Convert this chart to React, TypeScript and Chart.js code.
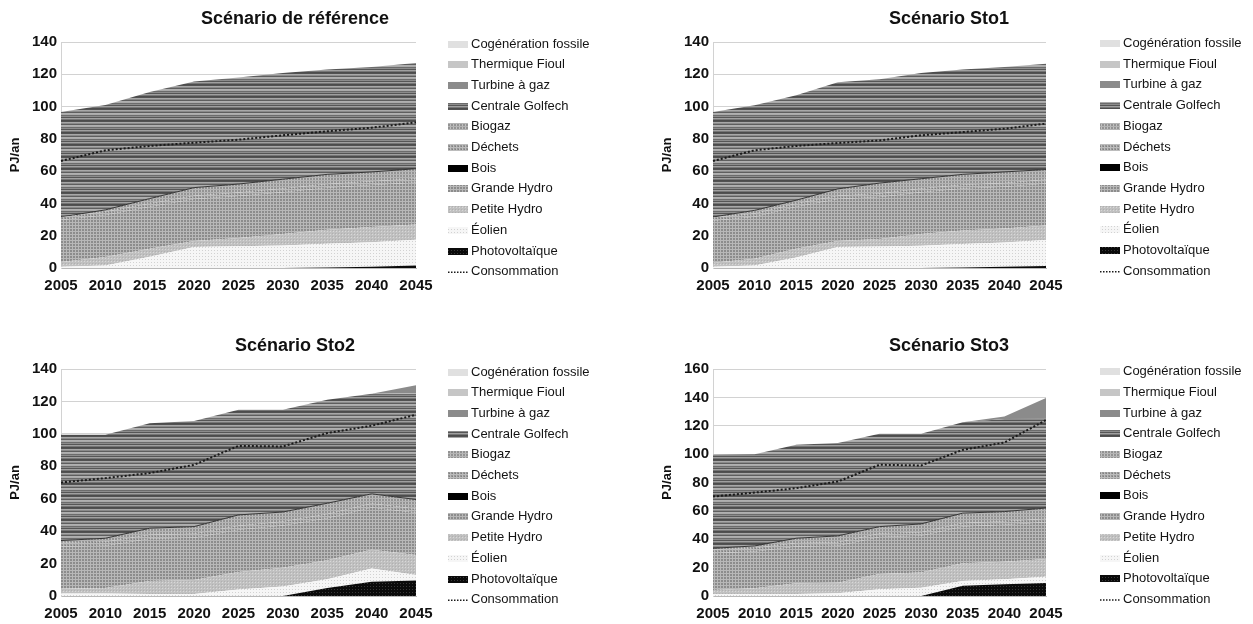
import React, { useEffect, useRef } from 'react';
import { Chart, registerables } from 'chart.js';

Chart.register(...registerables);

// ---------- DATA ----------
const years = ['2005', '2010', '2015', '2020', '2025', '2030', '2035', '2040', '2045'];

// Scénario de référence
const refPhotovoltaique = [0, 0, 0, 0, 0, 0, 0.3, 0.8, 1.5];
const refEolien = [0.8, 1.5, 7, 13, 13.4, 14, 14.7, 15.2, 16];
const refPetiteHydro = [2.9, 5.3, 5, 3.7, 5.2, 7, 8.7, 9.4, 9.5];
const refGrandeHydro = [26, 26, 26, 26, 26, 26, 26, 26, 26];
const refBois = [0, 0, 0, 0, 0, 0, 0, 0, 0];
const refDechets = [1.9, 2, 2, 2.1, 2.2, 2.3, 2.3, 2.3, 2.4];
const refBiogaz = [0, 1.2, 3, 5, 5.2, 5.7, 6, 5.8, 6.1];
const refGolfech = [65, 65, 66, 65.8, 66, 65.8, 65, 65, 65.5];
const refTurbine = [0, 0, 0, 0, 0, 0, 0, 0, 0];
const refFioul = [0, 0, 0, 0, 0, 0, 0, 0, 0];
const refCogeneration = [0, 0, 0, 0, 0, 0, 0, 0, 0];
const refConsommation = [66.3, 72.9, 75.6, 77.6, 79.5, 82.2, 84.7, 86.9, 90.2];

// Scénario Sto1
const sto1Photovoltaique = [0, 0, 0, 0, 0, 0, 0.3, 0.8, 1.3];
const sto1Eolien = [0.8, 1.6, 6.5, 13, 13.3, 13.8, 14.5, 15, 16];
const sto1PetiteHydro = [2.5, 4.2, 5.5, 3.7, 4.7, 7.2, 8.5, 8.6, 9.1];
const sto1GrandeHydro = [26, 26, 26, 26, 26, 26, 26, 26, 26];
const sto1Bois = [0, 0, 0, 0, 0, 0, 0, 0, 0];
const sto1Dechets = [2, 2, 2, 2.1, 2.2, 2.3, 2.3, 2.3, 2.4];
const sto1Biogaz = [0.3, 1.9, 2, 4.2, 6.4, 6, 6.4, 6.8, 6.2];
const sto1Golfech = [65, 65.1, 65, 66, 64.4, 65.5, 64.9, 65, 65.6];
const sto1Turbine = [0, 0, 0, 0, 0, 0, 0, 0, 0];
const sto1Fioul = [0, 0, 0, 0, 0, 0, 0, 0, 0];
const sto1Cogeneration = [0, 0, 0, 0, 0, 0, 0, 0, 0];
const sto1Consommation = [66.3, 72.9, 75.6, 77.4, 79, 82.2, 84.2, 86.3, 89.4];

// Scénario Sto2
const sto2Photovoltaique = [0, 0, 0, 0, 0, 0, 5, 8.8, 9.5];
const sto2Eolien = [1.6, 1.6, 1.2, 1.2, 4, 5.8, 5.3, 8.2, 3.5];
const sto2PetiteHydro = [2.9, 3.4, 8.1, 8.7, 10.8, 11.7, 11.7, 11.6, 12.3];
const sto2GrandeHydro = [26, 26, 26, 26, 26, 26, 26, 26, 26];
const sto2Bois = [0, 0, 0, 0, 0, 0, 0, 0, 0];
const sto2Dechets = [2.5, 2.5, 2.5, 2.5, 2.5, 2.5, 2.5, 2.5, 2.5];
const sto2Biogaz = [1.2, 2.1, 4, 4.4, 6.7, 5.8, 6.7, 5.9, 5.7];
const sto2Golfech = [65.2, 63.8, 64.8, 65.2, 64.9, 63.1, 63.8, 61.8, 65.5];
const sto2Turbine = [0, 0, 0, 0, 0, 0, 0, 0, 5];
const sto2Fioul = [0, 0, 0, 0, 0, 0, 0, 0, 0];
const sto2Cogeneration = [0, 0, 0, 0, 0, 0, 0, 0, 0];
const sto2Consommation = [70, 72.7, 75.8, 80.9, 92.6, 92.2, 100.5, 105, 111.8];

// Scénario Sto3
const sto3Photovoltaique = [0, 0, 0, 0, 0, 0, 7.2, 8.2, 9.2];
const sto3Eolien = [1.4, 1.4, 1.4, 1.9, 4.7, 5.9, 3.4, 3.6, 4.3];
const sto3PetiteHydro = [2.8, 4, 7.5, 7.5, 10.8, 10.6, 12.4, 12.4, 12.5];
const sto3GrandeHydro = [26, 26, 26, 26, 26, 26, 26, 26, 26];
const sto3Bois = [0, 0, 0, 0, 0, 0, 0, 0, 0];
const sto3Dechets = [2.5, 2.5, 2.5, 2.5, 2.5, 2.5, 2.5, 2.5, 2.5];
const sto3Biogaz = [0.9, 1.4, 3.3, 4.5, 4.9, 5.8, 6.9, 6.8, 7.5];
const sto3Golfech = [65.9, 64.7, 65.9, 65.4, 65.5, 63.6, 64, 65.2, 63];
const sto3Turbine = [0, 0, 0, 0, 0, 0, 0, 1.9, 14.5];
const sto3Fioul = [0, 0, 0, 0, 0, 0, 0, 0, 0];
const sto3Cogeneration = [0, 0, 0, 0, 0, 0, 0, 0, 0];
const sto3Consommation = [70.1, 72.9, 76, 80.7, 92.5, 92, 103, 108.2, 124];

// stacked series, bottom to top
const seriesLabels = [
  'Photovoltaïque', 'Éolien', 'Petite Hydro', 'Grande Hydro', 'Bois', 'Déchets',
  'Biogaz', 'Centrale Golfech', 'Turbine à gaz', 'Thermique Fioul', 'Cogénération fossile',
];
const consoLabel = 'Consommation';

const refSeries = [refPhotovoltaique, refEolien, refPetiteHydro, refGrandeHydro, refBois, refDechets, refBiogaz, refGolfech, refTurbine, refFioul, refCogeneration];
const sto1Series = [sto1Photovoltaique, sto1Eolien, sto1PetiteHydro, sto1GrandeHydro, sto1Bois, sto1Dechets, sto1Biogaz, sto1Golfech, sto1Turbine, sto1Fioul, sto1Cogeneration];
const sto2Series = [sto2Photovoltaique, sto2Eolien, sto2PetiteHydro, sto2GrandeHydro, sto2Bois, sto2Dechets, sto2Biogaz, sto2Golfech, sto2Turbine, sto2Fioul, sto2Cogeneration];
const sto3Series = [sto3Photovoltaique, sto3Eolien, sto3PetiteHydro, sto3GrandeHydro, sto3Bois, sto3Dechets, sto3Biogaz, sto3Golfech, sto3Turbine, sto3Fioul, sto3Cogeneration];

const FONT = '"Liberation Sans", Arial, Helvetica, sans-serif';

// ---------- PATTERNS ----------
function tile(w: number, h: number, draw: (g: CanvasRenderingContext2D) => void): CanvasPattern | string {
  const c = document.createElement('canvas');
  c.width = w;
  c.height = h;
  const g = c.getContext('2d')!;
  draw(g);
  return g.createPattern(c, 'repeat') || '#999';
}

function makeFills(): (CanvasPattern | string)[] {
  const pv = tile(3, 3, (g) => {
    g.fillStyle = '#0a0a0a'; g.fillRect(0, 0, 3, 3);
    g.fillStyle = '#383838'; g.fillRect(1, 1, 1, 1);
  });
  const eol = tile(3, 3, (g) => {
    g.fillStyle = '#f6f6f6'; g.fillRect(0, 0, 3, 3);
    g.fillStyle = '#d2d2d2'; g.fillRect(1, 1, 1, 1);
  });
  const ph = tile(3, 3, (g) => {
    g.fillStyle = '#c0c0c0'; g.fillRect(0, 0, 3, 3);
    g.fillStyle = '#d8d8d8'; g.fillRect(0, 0, 1, 1);
    g.fillStyle = '#b0b0b0'; g.fillRect(2, 2, 1, 1);
  });
  const gh = tile(3, 3, (g) => {
    g.fillStyle = '#8c8c8c'; g.fillRect(0, 0, 3, 3);
    g.fillStyle = '#b8b8b8'; g.fillRect(0, 0, 3, 1); g.fillRect(0, 0, 1, 3);
  });
  const bois = '#000000';
  const dech = tile(3, 3, (g) => {
    g.fillStyle = '#979797'; g.fillRect(0, 0, 3, 3);
    g.fillStyle = '#bcbcbc'; g.fillRect(0, 0, 3, 1); g.fillRect(0, 0, 1, 3);
    g.fillStyle = '#808080'; g.fillRect(2, 2, 1, 1);
  });
  const bio = tile(3, 3, (g) => {
    g.fillStyle = '#939393'; g.fillRect(0, 0, 3, 3);
    g.fillStyle = '#c0c0c0'; g.fillRect(0, 0, 1, 3);
    g.fillStyle = '#b4b4b4'; g.fillRect(0, 0, 3, 1);
  });
  const golf = tile(4, 12, (g) => {
    const rows = ['#4c4c4c', '#525252', '#a8a8a8', '#8a8a8a', '#5e5e5e', '#b0b0b0', '#aaaaaa', '#6c6c6c', '#8c8c8c', '#565656', '#a0a0a0', '#767676'];
    rows.forEach((col, i) => { g.fillStyle = col; g.fillRect(0, i, 4, 1); });
  });
  const turb = '#8b8b8b';
  const fioul = '#c6c6c6';
  const coge = '#e0e0e0';
  return [pv, eol, ph, gh, bois, dech, bio, golf, turb, fioul, coge];
}

// ---------- LEGEND PLUGIN ----------
const sideLegend = {
  id: 'sideLegend',
  afterDraw(chart: any, _args: any, opts: any) {
    const ctx: CanvasRenderingContext2D = chart.ctx;
    const ds = chart.data.datasets as any[];
    const stacked = ds.filter((d) => d.label !== consoLabel).slice().reverse();
    const conso = ds.filter((d) => d.label === consoLabel);
    const items = stacked.concat(conso);
    ctx.save();
    ctx.font = `13px ${FONT}`;
    ctx.textBaseline = 'middle';
    ctx.textAlign = 'left';
    items.forEach((d, i) => {
      const cy = opts.y + i * opts.step;
      if (d.label === consoLabel) {
        ctx.strokeStyle = d.borderColor;
        ctx.lineWidth = 1.5;
        ctx.setLineDash([1.5, 1.5]);
        ctx.beginPath();
        ctx.moveTo(opts.x, cy + 0.5);
        ctx.lineTo(opts.x + opts.boxW, cy + 0.5);
        ctx.stroke();
        ctx.setLineDash([]);
      } else {
        ctx.fillStyle = d.backgroundColor;
        ctx.fillRect(opts.x, Math.round(cy - opts.boxH / 2), opts.boxW, opts.boxH);
      }
      ctx.fillStyle = '#141414';
      ctx.fillText(d.label, opts.x + opts.boxW + 3, cy);
    });
    ctx.restore();
  },
};

// ---------- PANEL ----------
type PanelProps = {
  title: string;
  series: number[][];
  conso: number[];
  yMax: number;
  left: number;
  top: number;
  width: number;
  height: number;
  plotLeft: number;
  plotRight: number;
  yTitlePad: number;
  legendX: number;
  legendY: number;
};

function Panel(p: PanelProps) {
  const ref = useRef<HTMLCanvasElement | null>(null);
  useEffect(() => {
    if (!ref.current) return;
    const fills = makeFills();
    const datasets: any[] = p.series.map((vals, i) => ({
      label: seriesLabels[i],
      data: vals,
      backgroundColor: fills[i],
      borderColor: seriesLabels[i] === 'Biogaz' ? 'rgba(40,40,40,0.9)' : 'rgba(0,0,0,0)',
      borderWidth: 1,
      fill: i === 0 ? 'origin' : '-1',
      pointRadius: 0,
      tension: 0,
      stack: 'energy',
    }));
    datasets.push({
      label: consoLabel,
      data: p.conso,
      borderColor: '#1a1a1a',
      backgroundColor: 'rgba(0,0,0,0)',
      borderWidth: 2,
      borderDash: [2, 2],
      fill: false,
      pointRadius: 0,
      tension: 0,
      stack: 'conso',
      order: -1,
    });
    const chart = new Chart(ref.current, {
      type: 'line',
      data: { labels: years, datasets },
      plugins: [sideLegend as any],
      options: {
        responsive: false,
        animation: false,
        events: [],
        layout: { padding: 0 },
        plugins: {
          legend: { display: false },
          tooltip: { enabled: false },
          title: {
            display: true,
            text: p.title,
            color: '#111',
            font: { family: FONT, size: 18, weight: 'bold' },
            padding: { top: 8, bottom: 12.4 },
          },
          sideLegend: { x: p.legendX, y: p.legendY, step: 20.7, boxW: 20, boxH: 7 },
        } as any,
        scales: {
          x: {
            offset: false,
            grid: { display: false, drawTicks: false },
            border: { display: true, color: '#b8b8b8' },
            ticks: {
              color: '#111',
              padding: 9,
              maxRotation: 0,
              autoSkip: false,
              font: { family: FONT, size: 15, weight: 'bold' },
            },
            afterFit: (s: any) => {
              s.height = 30;
              s.paddingRight = p.width - p.plotRight;
            },
          },
          y: {
            stacked: true,
            min: 0,
            max: p.yMax,
            grid: { color: '#d2d2d2', drawTicks: false },
            border: { display: true, color: '#d2d2d2' },
            ticks: {
              stepSize: 20,
              color: '#111',
              padding: 4,
              font: { family: FONT, size: 15, weight: 'bold' },
            },
            title: {
              display: true,
              text: 'PJ/an',
              color: '#111',
              font: { family: FONT, size: 13, weight: 'bold' },
              padding: { top: p.yTitlePad, bottom: 0 },
            },
            afterFit: (s: any) => {
              s.width = p.plotLeft;
            },
          },
        },
      } as any,
    });
    return () => chart.destroy();
  }, []);
  return (
    <canvas
      ref={ref}
      width={p.width}
      height={p.height}
      style={{ position: 'absolute', left: p.left, top: p.top, width: p.width, height: p.height }}
    />
  );
}

export default function App() {
  return (
    <div style={{ position: 'absolute', left: 0, top: 0, width: 1253, height: 624, background: '#fff', overflow: 'hidden' }}>
      <Panel title="Scénario de référence" series={refSeries} conso={refConsommation} yMax={140}
        left={0} top={0} width={590} height={298} plotLeft={61} plotRight={416} yTitlePad={7.2} legendX={448} legendY={44} />
      <Panel title="Scénario Sto1" series={sto1Series} conso={sto1Consommation} yMax={140}
        left={645} top={0} width={608} height={298} plotLeft={68} plotRight={401} yTitlePad={14.2} legendX={455} legendY={43.5} />
      <Panel title="Scénario Sto2" series={sto2Series} conso={sto2Consommation} yMax={140}
        left={0} top={327} width={590} height={299} plotLeft={61} plotRight={416} yTitlePad={7.2} legendX={448} legendY={45} />
      <Panel title="Scénario Sto3" series={sto3Series} conso={sto3Consommation} yMax={160}
        left={645} top={327} width={608} height={299} plotLeft={68} plotRight={401} yTitlePad={14.2} legendX={455} legendY={44.7} />
    </div>
  );
}
